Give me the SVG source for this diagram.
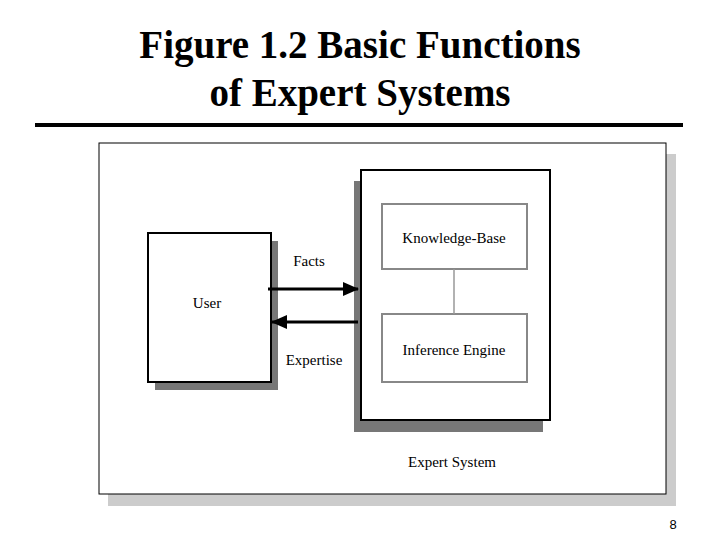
<svg xmlns="http://www.w3.org/2000/svg" width="720" height="540" viewBox="0 0 720 540">
<style>
.t{font-family:"Liberation Serif",serif;font-size:15px;fill:#000;text-anchor:middle}
.sh{fill:#777}
.bx{fill:#fff;stroke:#000;stroke-width:2}
.ib{fill:#fff;stroke:#888;stroke-width:2}
</style>
<defs>
<marker id="ah2" markerWidth="16" markerHeight="14" refX="15" refY="7" orient="auto" markerUnits="userSpaceOnUse" viewBox="0 0 16 14"><path d="M0,0 L16,7 L0,14 z" fill="#000"/></marker></defs>
<rect width="720" height="540" fill="#fff"/>
<text x="360" y="58" font-family="Liberation Serif,serif" font-weight="bold" font-size="39" text-anchor="middle">Figure 1.2 Basic Functions</text>
<text x="360" y="106" font-family="Liberation Serif,serif" font-weight="bold" font-size="39" text-anchor="middle">of Expert Systems</text>
<rect x="35" y="123" width="648" height="4" fill="#000"/>
<g id="frame">
<rect x="108" y="154" width="568" height="352" fill="#ccc"/>
<rect x="99" y="143" width="567" height="351" fill="#fff" stroke="#000" stroke-width="1"/>
</g>
<g id="user">
<rect x="155" y="241" width="123" height="149" class="sh"/>
<rect x="148" y="233" width="123" height="149" class="bx"/>
<text x="207" y="308" class="t">User</text>
</g>
<g id="expert">
<rect x="354" y="181" width="189" height="251" class="sh"/>
<rect x="361" y="170" width="189" height="250" class="bx"/>
<text x="452" y="467" class="t">Expert System</text>
</g>
<g id="kb">
<rect x="382" y="204" width="145" height="65" class="ib"/>
<text x="454" y="243" class="t">Knowledge-Base</text>
</g>
<g id="ie">
<rect x="382" y="314" width="145" height="68" class="ib"/>
<text x="454" y="355" class="t">Inference Engine</text>
</g>
<g id="connectors">
<line x1="454" y1="269" x2="454" y2="314" stroke="#999" stroke-width="1.5"/>
<line x1="268" y1="289" x2="358" y2="289" stroke="#000" stroke-width="3" marker-end="url(#ah2)"/>
<line x1="358" y1="322" x2="272" y2="322" stroke="#000" stroke-width="3" marker-end="url(#ah2)"/>
<text x="309" y="266" class="t">Facts</text>
<text x="314" y="365" class="t">Expertise</text>
</g>
<text x="673" y="529" font-family="Liberation Sans,sans-serif" font-size="13" text-anchor="middle">8</text>
</svg>
